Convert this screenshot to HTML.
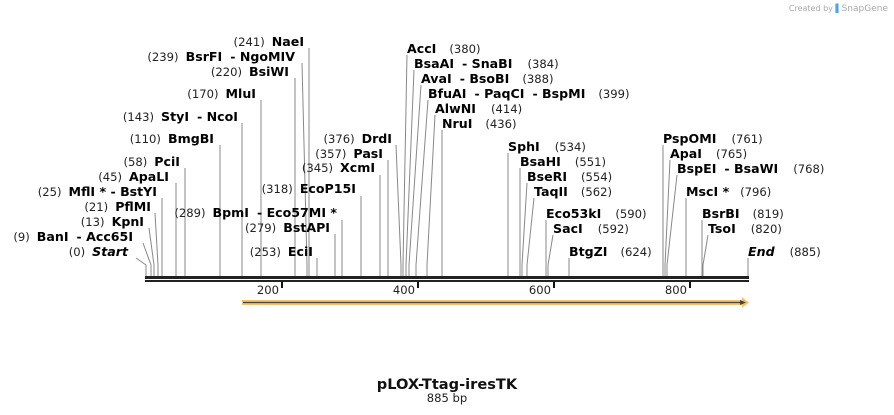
<!DOCTYPE html>
<html><head><meta charset="utf-8"><style>
html,body{margin:0;padding:0;background:#fff;}
svg{display:block;font-family:"DejaVu Sans","Liberation Sans",sans-serif;}
.b{font-weight:bold;font-size:12.6px;fill:#000;}
.n{font-size:11.6px;fill:#222;font-weight:normal;}
line,polyline{stroke:#888;stroke-width:1;fill:none;}
</style></head><body>
<svg width="894" height="415" viewBox="0 0 894 415" xmlns="http://www.w3.org/2000/svg">
<text x="888" y="11" text-anchor="end" font-size="8" fill="#aaa">Created by <tspan fill="#4aa8e0">▌</tspan><tspan font-size="9">SnapGene</tspan></text>

<g>
<polyline points="136,258 146,265 146,276"/>
<polyline points="143,243 151,265 151,276"/>
<polyline points="149,228 154,265 154,276"/>
<polyline points="155,213 158,265 158,276"/>
<polyline points="162,198 162,276"/>
<polyline points="176,183 176,276"/>
<polyline points="185,168 185,276"/>
<polyline points="220,145 220,276"/>
<polyline points="242,123 242,276"/>
<polyline points="261,100 261,276"/>
<polyline points="295,78 295,276"/>
<polyline points="302,63 307,265 307,276"/>
<polyline points="309,48 309,276"/>
<polyline points="317,258 317,276"/>
<polyline points="335,234 335,276"/>
<polyline points="342,220 342,276"/>
<polyline points="361,196 361,276"/>
<polyline points="380,175 380,276"/>
<polyline points="388,160 388,276"/>
<polyline points="396,145 401,265 401,276"/>
<polyline points="407,55 403,265 403,276"/>
<polyline points="414,70 406,265 406,276"/>
<polyline points="421,85 409,265 409,276"/>
<polyline points="428,100 416,265 416,276"/>
<polyline points="435,115 427,265 427,276"/>
<polyline points="442,130 442,276"/>
<polyline points="508,153 508,276"/>
<polyline points="520,168 520,276"/>
<polyline points="527,183 522,265 522,276"/>
<polyline points="534,198 527,265 527,276"/>
<polyline points="546,220 546,276"/>
<polyline points="553,235 548,265 548,276"/>
<polyline points="569,258 569,276"/>
<polyline points="663,145 663,276"/>
<polyline points="670,160 665,265 665,276"/>
<polyline points="677,175 667,265 667,276"/>
<polyline points="686,198 686,276"/>
<polyline points="702,220 702,276"/>
<polyline points="708,235 703,265 703,276"/>
<polyline points="748,258 748,276"/>
</g>

<g text-anchor="end">
<text x="128" y="256"><tspan class="n">(0)</tspan><tspan class="b" font-style="italic" dx="7">Start</tspan></text>
<text x="133" y="241"><tspan class="n">(9)</tspan><tspan class="b" dx="7">BanI</tspan><tspan class="b" dx="8">- Acc65I</tspan></text>
<text x="144" y="226"><tspan class="n">(13)</tspan><tspan class="b" dx="7">KpnI</tspan></text>
<text x="151" y="211"><tspan class="n">(21)</tspan><tspan class="b" dx="7">PflMI</tspan></text>
<text x="157" y="196"><tspan class="n">(25)</tspan><tspan class="b" dx="7">MflI * - BstYI</tspan></text>
<text x="169" y="181"><tspan class="n">(45)</tspan><tspan class="b" dx="7">ApaLI</tspan></text>
<text x="180" y="166"><tspan class="n">(58)</tspan><tspan class="b" dx="7">PciI</tspan></text>
<text x="214" y="143"><tspan class="n">(110)</tspan><tspan class="b" dx="7">BmgBI</tspan></text>
<text x="238" y="121"><tspan class="n">(143)</tspan><tspan class="b" dx="7">StyI</tspan><tspan class="b" dx="8">- NcoI</tspan></text>
<text x="256" y="98"><tspan class="n">(170)</tspan><tspan class="b" dx="7">MluI</tspan></text>
<text x="289" y="76"><tspan class="n">(220)</tspan><tspan class="b" dx="7">BsiWI</tspan></text>
<text x="295" y="61"><tspan class="n">(239)</tspan><tspan class="b" dx="7">BsrFI</tspan><tspan class="b" dx="8">- NgoMIV</tspan></text>
<text x="304" y="46"><tspan class="n">(241)</tspan><tspan class="b" dx="7">NaeI</tspan></text>
<text x="313" y="256"><tspan class="n">(253)</tspan><tspan class="b" dx="7">EciI</tspan></text>
<text x="330" y="232"><tspan class="n">(279)</tspan><tspan class="b" dx="7">BstAPI</tspan></text>
<text x="337" y="217"><tspan class="n">(289)</tspan><tspan class="b" dx="7">BpmI</tspan><tspan class="b" dx="8">- Eco57MI *</tspan></text>
<text x="356" y="193"><tspan class="n">(318)</tspan><tspan class="b" dx="7">EcoP15I</tspan></text>
<text x="375" y="172"><tspan class="n">(345)</tspan><tspan class="b" dx="7">XcmI</tspan></text>
<text x="383" y="158"><tspan class="n">(357)</tspan><tspan class="b" dx="7">PasI</tspan></text>
<text x="392" y="143"><tspan class="n">(376)</tspan><tspan class="b" dx="7">DrdI</tspan></text>
</g>

<g>
<text x="407" y="53"><tspan class="b">AccI</tspan><tspan class="n" dx="13">(380)</tspan></text>
<text x="414" y="68"><tspan class="b">BsaAI</tspan><tspan class="b" dx="8">- SnaBI</tspan><tspan class="n" dx="15">(384)</tspan></text>
<text x="421" y="83"><tspan class="b">AvaI</tspan><tspan class="b" dx="8">- BsoBI</tspan><tspan class="n" dx="13">(388)</tspan></text>
<text x="428" y="98"><tspan class="b">BfuAI</tspan><tspan class="b" dx="8">- PaqCI</tspan><tspan class="b" dx="8">- BspMI</tspan><tspan class="n" dx="13">(399)</tspan></text>
<text x="435" y="113"><tspan class="b">AlwNI</tspan><tspan class="n" dx="15">(414)</tspan></text>
<text x="442" y="128"><tspan class="b">NruI</tspan><tspan class="n" dx="13">(436)</tspan></text>
<text x="508" y="151"><tspan class="b">SphI</tspan><tspan class="n" dx="15">(534)</tspan></text>
<text x="520" y="166"><tspan class="b">BsaHI</tspan><tspan class="n" dx="14">(551)</tspan></text>
<text x="527" y="181"><tspan class="b">BseRI</tspan><tspan class="n" dx="14">(554)</tspan></text>
<text x="534" y="196"><tspan class="b">TaqII</tspan><tspan class="n" dx="13">(562)</tspan></text>
<text x="546" y="218"><tspan class="b">Eco53kI</tspan><tspan class="n" dx="14">(590)</tspan></text>
<text x="553" y="233"><tspan class="b">SacI</tspan><tspan class="n" dx="15">(592)</tspan></text>
<text x="569" y="256"><tspan class="b">BtgZI</tspan><tspan class="n" dx="13">(624)</tspan></text>
<text x="663" y="143"><tspan class="b">PspOMI</tspan><tspan class="n" dx="15">(761)</tspan></text>
<text x="670" y="158"><tspan class="b">ApaI</tspan><tspan class="n" dx="14">(765)</tspan></text>
<text x="677" y="173"><tspan class="b">BspEI</tspan><tspan class="b" dx="8">- BsaWI</tspan><tspan class="n" dx="15">(768)</tspan></text>
<text x="686" y="196"><tspan class="b">MscI *</tspan><tspan class="n" dx="11">(796)</tspan></text>
<text x="702" y="218"><tspan class="b">BsrBI</tspan><tspan class="n" dx="13">(819)</tspan></text>
<text x="708" y="233"><tspan class="b">TsoI</tspan><tspan class="n" dx="15">(820)</tspan></text>
<text x="748" y="256"><tspan class="b" font-style="italic">End</tspan><tspan class="n" dx="15">(885)</tspan></text>
</g>

<rect x="145" y="276" width="604" height="3" fill="#222"/>
<rect x="145" y="280" width="604" height="2" fill="#222"/>
<g fill="#111">
<rect x="281" y="282" width="2" height="6"/>
<rect x="417" y="282" width="2" height="6"/>
<rect x="553" y="282" width="2" height="6"/>
<rect x="689" y="282" width="2" height="6"/>
</g>
<g font-size="11.6" fill="#222" text-anchor="end">
<text x="279" y="294">200</text>
<text x="415" y="294">400</text>
<text x="551" y="294">600</text>
<text x="687" y="294">800</text>
</g>

<rect x="242" y="300" width="502" height="5" fill="#f5c26b"/>
<polygon points="742,297 749,302.5 742,308" fill="#f5c26b"/>
<line x1="243" y1="302.5" x2="744" y2="302.5" style="stroke:#444;stroke-width:1.2"/>
<polygon points="740,300 746,302.5 740,305" fill="#444"/>

<text x="447" y="389" text-anchor="middle" font-weight="bold" font-size="14.6" fill="#111">pLOX-Ttag-iresTK</text>
<text x="447" y="402" text-anchor="middle" font-size="11.6" fill="#222">885 bp</text>
</svg>
</body></html>
